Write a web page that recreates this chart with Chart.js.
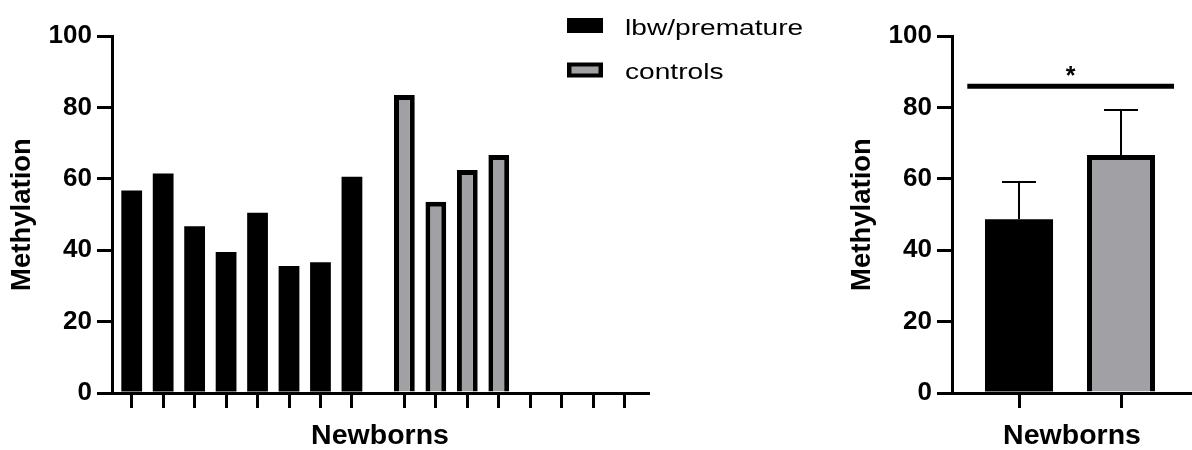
<!DOCTYPE html>
<html>
<head>
<meta charset="utf-8">
<script src="https://cdn.jsdelivr.net/npm/chart.js@4.4.1/dist/chart.umd.min.js"></script>
<style>
html,body{margin:0;padding:0;background:#fff;}
#wrap{position:relative;width:1192px;height:450px;overflow:hidden;background:#fff;}
#left{position:absolute;left:0;top:0;}
#right{position:absolute;left:840px;top:0;}
</style>
</head>
<body>
<div id="wrap">
<canvas id="left" width="830" height="450"></canvas>
<canvas id="right" width="352" height="450"></canvas>
</div>
<script>
// ---------- data ----------
const seriesNames = ['lbw/premature', 'controls'];
const lbwValues = [56.7, 61.5, 46.7, 39.5, 50.5, 35.6, 36.6, 60.6];
const controlValues = [83.5, 53.6, 62.5, 66.7];
const slotsPerGroup = 8;
const yTickValues = [0, 20, 40, 60, 80, 100];
const xTitle = 'Newborns';
const yTitle = 'Methylation';
const summaryMeans = [48.7, 66.7];
const summarySD = [10.4, 12.6];
const significanceLevel = 85.9;
const significanceLabel = '*';

// ---------- styling ----------
const GRAY = '#a1a0a5';
const BLACK = '#000000';
Chart.defaults.font.family = '"Liberation Sans", Arial, sans-serif';
Chart.defaults.color = BLACK;

const groupGap = 0.667;
const slotIndex = [...Array(slotsPerGroup).keys()];
const lbwPoints = lbwValues.map((v, i) => ({x: i, y: v}));
const controlPoints = controlValues.map((v, i) => ({x: slotsPerGroup + groupGap + i, y: v}));
const leftTicks = slotIndex.concat(slotIndex.map(i => slotsPerGroup + groupGap + i));

function yScale() {
  return {
    type: 'linear', min: 0, max: 100,
    afterBuildTicks: ax => { ax.ticks = yTickValues.map(v => ({value: v})); },
    afterFit: s => { s.width = 112; },
    ticks: {font: {size: 26, weight: 'bold'}, padding: 5, color: BLACK},
    grid: {drawOnChartArea: false, drawTicks: true, tickLength: 15, tickWidth: 3, tickColor: BLACK, color: BLACK, lineWidth: 3},
    border: {display: true, color: BLACK, width: 3},
    title: {display: true, text: yTitle, color: BLACK, font: {size: 27.5, weight: 'bold', lineHeight: 1}, padding: {top: 9, bottom: 0}}
  };
}
function xScale(min, max, tickVals) {
  return {
    type: 'linear', min: min, max: max, offset: false,
    afterBuildTicks: ax => { ax.ticks = tickVals.map(v => ({value: v})); },
    afterFit: s => { s.height = 57; },
    ticks: {callback: () => '', autoSkip: false, maxRotation: 0},
    grid: {offset: false, drawOnChartArea: false, drawTicks: true, tickLength: 15, tickWidth: 3, tickColor: BLACK, color: BLACK, lineWidth: 3},
    border: {display: true, color: BLACK, width: 3},
    title: {display: true, text: xTitle, color: BLACK, font: {size: 28.5, weight: 'bold', lineHeight: 1}, padding: {top: 0, bottom: 0}}
  };
}

const legendPlugin = {
  id: 'customLegend',
  afterDraw(chart, args, opts) {
    const ctx = chart.ctx;
    chart.data.datasets.forEach((ds, i) => {
      const by = opts.boxTops[i];
      ctx.save();
      if (ds.borderWidth) {
        ctx.fillStyle = ds.borderColor;
        ctx.fillRect(opts.boxX, by, opts.boxW, opts.boxH);
        ctx.fillStyle = ds.backgroundColor;
        ctx.fillRect(opts.boxX + 4.5, by + 4, opts.boxW - 9, opts.boxH - 8);
      } else {
        ctx.fillStyle = ds.backgroundColor;
        ctx.fillRect(opts.boxX, by, opts.boxW, opts.boxH);
      }
      ctx.fillStyle = BLACK;
      ctx.font = '22.5px "Liberation Sans", Arial, sans-serif';
      ctx.textBaseline = 'alphabetic';
      ctx.textAlign = 'left';
      ctx.translate(opts.textX, opts.baselines[i]);
      ctx.scale(1.25, 1);
      ctx.fillText(ds.label, 0, 0);
      ctx.restore();
    });
  }
};

const summaryPlugin = {
  id: 'summaryMarks',
  afterDatasetsDraw(chart, args, opts) {
    const {ctx, scales: {x, y}} = chart;
    ctx.save();
    ctx.strokeStyle = BLACK;
    ctx.lineWidth = 2;
    summaryMeans.forEach((m, i) => {
      const px = x.getPixelForValue(i);
      const base = y.getPixelForValue(m);
      const top = y.getPixelForValue(m + summarySD[i]);
      ctx.beginPath();
      ctx.moveTo(px, base); ctx.lineTo(px, top);
      ctx.moveTo(px - opts.capHalf, top); ctx.lineTo(px + opts.capHalf, top);
      ctx.stroke();
    });
    const yy = y.getPixelForValue(significanceLevel);
    ctx.lineWidth = 5;
    ctx.beginPath();
    ctx.moveTo(x.getPixelForValue(opts.sigFrom), yy);
    ctx.lineTo(x.getPixelForValue(opts.sigTo), yy);
    ctx.stroke();
    ctx.fillStyle = BLACK;
    ctx.font = 'bold 25px "Liberation Sans", Arial, sans-serif';
    ctx.textAlign = 'center';
    ctx.textBaseline = 'alphabetic';
    ctx.fillText(significanceLabel, x.getPixelForValue((opts.sigFrom + opts.sigTo) / 2), yy - 2);
    ctx.restore();
  }
};

new Chart(document.getElementById('left'), {
  type: 'bar',
  data: {
    datasets: [
      {label: seriesNames[0], data: lbwPoints, backgroundColor: BLACK, borderWidth: 0, grouped: false, barPercentage: 0.66, categoryPercentage: 1},
      {label: seriesNames[1], data: controlPoints, backgroundColor: GRAY, borderColor: BLACK, borderWidth: 5, grouped: false, barPercentage: 0.66, categoryPercentage: 1}
    ]
  },
  options: {
    responsive: false, animation: false,
    layout: {padding: {top: 36, right: 182, bottom: 0, left: 0}},
    plugins: {
      legend: {display: false}, tooltip: {enabled: false},
      customLegend: {boxX: 567, boxW: 36, boxH: 15, boxTops: [18, 62.5], textX: 625, baselines: [34.5, 78.5]}
    },
    scales: {x: xScale(-0.626, 16.41, leftTicks), y: yScale()}
  },
  plugins: [legendPlugin]
});

new Chart(document.getElementById('right'), {
  type: 'bar',
  data: {
    datasets: [{
      label: 'summary',
      data: summaryMeans.map((v, i) => ({x: i, y: v})),
      backgroundColor: [BLACK, GRAY], borderColor: BLACK, borderWidth: [0, 5],
      barPercentage: 0.667, categoryPercentage: 1
    }]
  },
  options: {
    responsive: false, animation: false,
    layout: {padding: {top: 36, right: 0, bottom: 0, left: 0}},
    plugins: {
      legend: {display: false}, tooltip: {enabled: false},
      summaryMarks: {capHalf: 17, sigFrom: -0.507, sigTo: 1.52}
    },
    scales: {x: xScale(-0.657, 1.696, [0, 1]), y: yScale()}
  },
  plugins: [summaryPlugin]
});
</script>
</body>
</html>
